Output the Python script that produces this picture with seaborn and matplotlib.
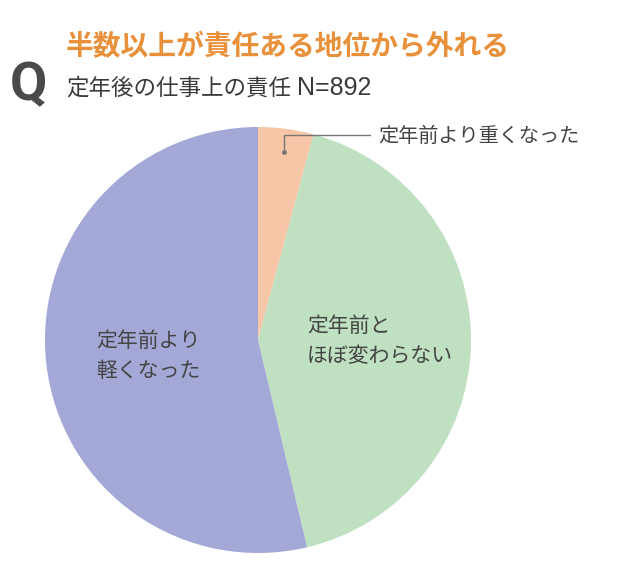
import matplotlib
matplotlib.use("Agg")
import matplotlib.pyplot as plt
import seaborn as sns
from matplotlib.lines import Line2D

# data (share of respondents, %)
labels = ["定年前より重くなった", "定年前と\nほぼ変わらない", "定年前より\n軽くなった"]
shares = [4.2, 42.1, 53.7]
colors = ["#f7c6a7", "#bfe0c1", "#a3a8d6"]

title = "半数以上が責任ある地位から外れる"
subtitle = "定年後の仕事上の責任"
sample = "N=892"

sns.set_theme(style="white")
plt.rcParams['font.family'] = ['Noto Sans CJK JP', 'DejaVu Sans']

W, H = 638, 579
fig = plt.figure(figsize=(W / 100, H / 100), dpi=100)


def fx(px):
    return px / W


def fy(py):
    # pixel from the top -> figure fraction
    return 1 - py / H


# pie axes: centre (258, 340), radius 213 px
cx, cy, r = 258, 340, 213
ax = fig.add_axes([fx(cx - r), fy(cy + r), 2 * r / W, 2 * r / H])
ax.pie(shares, colors=colors, startangle=90, counterclock=False,
       wedgeprops=dict(linewidth=0))
ax.set_xlim(-1, 1)
ax.set_ylim(-1, 1)
ax.axis("off")

# header
fig.text(fx(66), fy(47), title, color="#e8913a", fontsize=20,
         fontweight="bold", va="center", ha="left")
fig.text(fx(10), fy(86), "Q", color="#4a4a4a", fontsize=39,
         fontweight="bold", va="center", ha="left",
         family=["Roboto", "DejaVu Sans"], stretch="condensed")
fig.text(fx(66), fy(88), subtitle, color="#3a3a3a", fontsize=16.2,
         va="center", ha="left")
fig.text(fx(297), fy(88), sample, color="#3a3a3a", fontsize=18,
         va="center", ha="left", family=["Liberation Sans", "DejaVu Sans"])

# slice labels
txt = "#444444"
fig.text(fx(378), fy(136), labels[0], color=txt, fontsize=14.5,
         va="center", ha="left")
fig.text(fx(307), fy(341), labels[1], color=txt, fontsize=15,
         va="center", ha="left", linespacing=1.45)
fig.text(fx(96), fy(356), labels[2], color=txt, fontsize=15,
         va="center", ha="left", linespacing=1.45)

# leader line for the small slice
fig.add_artist(Line2D([fx(284), fx(284), fx(370)], [fy(152), fy(135), fy(135)],
                      color="#777777", linewidth=1.0))
fig.add_artist(Line2D([fx(284)], [fy(152)], marker="o", markersize=2.5,
                      color="#777777"))

fig.savefig("out.png", dpi=100)
